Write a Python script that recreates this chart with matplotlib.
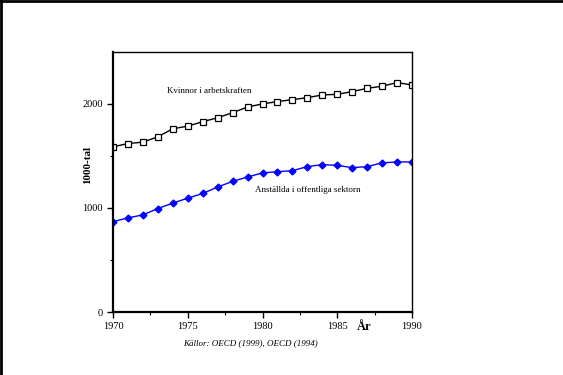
import matplotlib.pyplot as plt
from matplotlib.lines import Line2D

years = list(range(1970, 1991))

kvinnor = [1588, 1620, 1633, 1685, 1762, 1787, 1830, 1868, 1917, 1971, 2001,
           2023, 2042, 2061, 2087, 2093, 2119, 2151, 2171, 2206, 2183]

offentliga = [869, 905, 934, 995, 1047, 1095, 1140, 1202, 1256, 1298, 1338,
              1349, 1359, 1398, 1417, 1410, 1388, 1398, 1434, 1443, 1443]

x_ticks = [1970, 1975, 1980, 1985, 1990]
y_ticks = [0, 1000, 2000]

plt.rcParams['font.family'] = ['Liberation Serif', 'DejaVu Serif']

fig = plt.figure(figsize=(5.63, 3.75), dpi=100)
ax = fig.add_axes([113 / 563, 63 / 375, 299 / 563, 260 / 375])

ax.plot(years, kvinnor, color='black', lw=1, marker='s', ms=4,
        mfc='white', mec='black', mew=0.9)
ax.plot(years, offentliga, color='#0000ff', lw=1.0, marker='D', ms=3.5,
        mfc='#0000ff', mec='#0000ff')

ax.set_xlim(1970, 1990)
ax.set_ylim(0, 2500)
ax.set_xticks(x_ticks)
ax.set_xticks([1972.5, 1977.5, 1982.5, 1987.5], minor=True)
ax.set_yticks(y_ticks)
ax.set_yticks([500, 1500], minor=True)
ax.tick_params(axis='both', which='major', labelsize=7.5, length=4, width=1, direction='out')
ax.tick_params(axis='both', which='minor', length=2.5, width=0.8, direction='out')

for side in ['left', 'bottom']:
    ax.spines[side].set_linewidth(1.6)
for side in ['top', 'right']:
    ax.spines[side].set_linewidth(1.0)

ax.text(1973.6, 2125, 'Kvinnor i arbetskraften', fontsize=6.5, va='center')
ax.text(1979.5, 1175, 'Anställda i offentliga sektorn', fontsize=6.5, va='center')

fig.text(88 / 563, 1 - 165 / 375, '1000-tal', rotation=90, fontsize=8,
         fontweight='bold', ha='center', va='center')
fig.text(364 / 563, 1 - 327 / 375, 'År', fontsize=9, fontweight='bold',
         ha='center', va='center')
fig.text(250 / 563, 1 - 343 / 375, 'Källor: OECD (1999), OECD (1994)',
         fontsize=6.5, style='italic', ha='center', va='center')

# ram runt figuren (bara topp och vänster syns)
fig.add_artist(Line2D([0, 1], [0.997, 0.997], transform=fig.transFigure, color='black', lw=2))
fig.add_artist(Line2D([0.002, 0.002], [0, 1], transform=fig.transFigure, color='black', lw=2))

fig.savefig('out.png', dpi=100)
